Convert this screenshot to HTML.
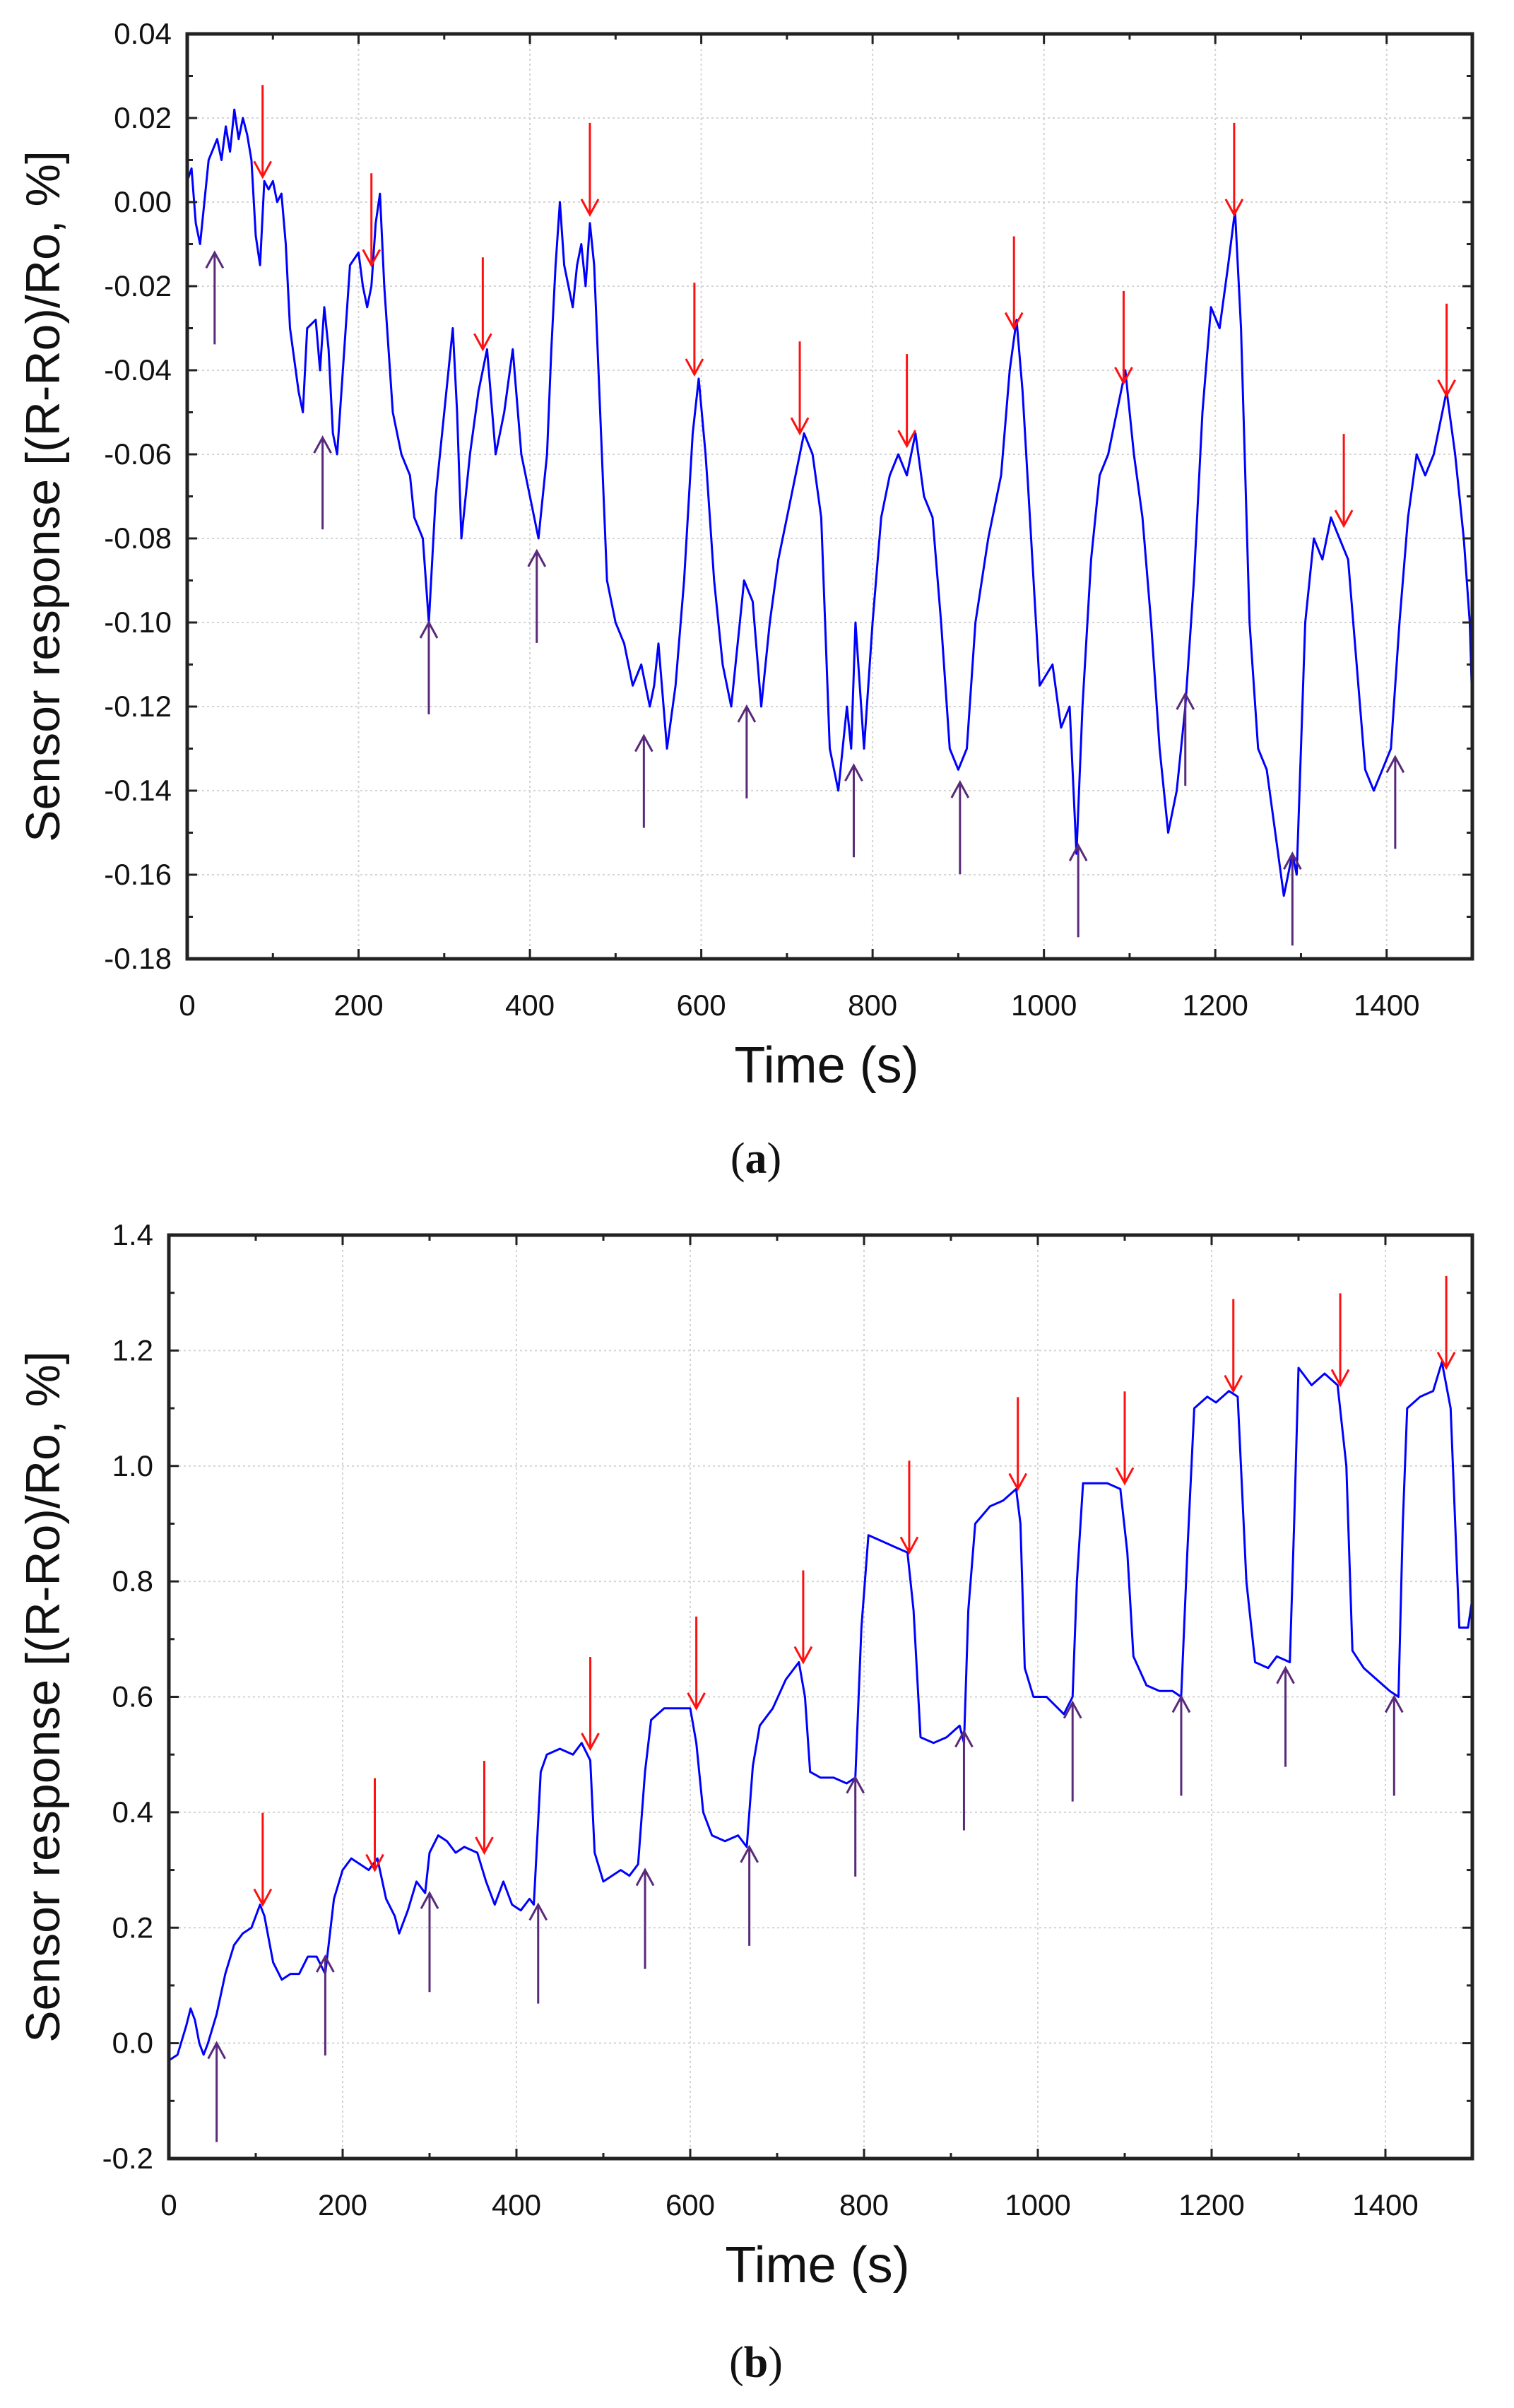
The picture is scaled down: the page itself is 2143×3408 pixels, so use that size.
<!DOCTYPE html>
<html><head><meta charset="utf-8">
<style>
html,body{margin:0;padding:0;background:#fff;}
svg{display:block;}
text{font-family:"Liberation Sans",sans-serif;fill:#111;}
</style></head>
<body>
<svg id="fig" width="2143" height="3408" viewBox="0 0 2143 3408" xmlns="http://www.w3.org/2000/svg"></svg>
<script>
// ---------- Panel (a) data ----------
const aTimes = [0,5,10,15,20,25,35,40,45,50,55,60,65,70,75,80,85,90,95,100,105,110,115,120,130,135,140,150,155,160,165,170,175,180,190,200,205,210,215,220,225,230,240,250,260,265,275,282,290,300,310,315,320,330,340,350,360,370,380,390,400,410,420,425,430,435,440,450,455,460,465,470,475,480,490,500,510,520,530,540,545,550,560,570,580,590,597,605,615,625,635,645,650,660,670,680,690,700,710,720,730,740,750,760,770,775,780,790,800,810,820,830,840,850,860,870,880,890,900,910,920,935,950,960,968,975,985,995,1010,1020,1030,1038,1045,1055,1065,1075,1085,1095,1105,1115,1125,1135,1145,1155,1165,1175,1185,1195,1205,1215,1223,1230,1240,1250,1260,1270,1280,1290,1295,1305,1315,1325,1335,1345,1355,1365,1375,1385,1395,1405,1415,1425,1435,1445,1455,1470,1480,1490,1497,1500];
const aValues = [0.005,0.008,-0.005,-0.01,0.0,0.01,0.015,0.01,0.018,0.012,0.022,0.015,0.02,0.016,0.01,-0.008,-0.015,0.005,0.003,0.005,0.0,0.002,-0.01,-0.03,-0.045,-0.05,-0.03,-0.028,-0.04,-0.025,-0.035,-0.055,-0.06,-0.045,-0.015,-0.012,-0.02,-0.025,-0.02,-0.005,0.002,-0.02,-0.05,-0.06,-0.065,-0.075,-0.08,-0.1,-0.07,-0.05,-0.03,-0.05,-0.08,-0.06,-0.045,-0.035,-0.06,-0.05,-0.035,-0.06,-0.07,-0.08,-0.06,-0.035,-0.015,0.0,-0.015,-0.025,-0.015,-0.01,-0.02,-0.005,-0.015,-0.04,-0.09,-0.1,-0.105,-0.115,-0.11,-0.12,-0.115,-0.105,-0.13,-0.115,-0.09,-0.055,-0.042,-0.06,-0.09,-0.11,-0.12,-0.1,-0.09,-0.095,-0.12,-0.1,-0.085,-0.075,-0.065,-0.055,-0.06,-0.075,-0.13,-0.14,-0.12,-0.13,-0.1,-0.13,-0.1,-0.075,-0.065,-0.06,-0.065,-0.055,-0.07,-0.075,-0.1,-0.13,-0.135,-0.13,-0.1,-0.08,-0.065,-0.04,-0.028,-0.045,-0.08,-0.115,-0.11,-0.125,-0.12,-0.155,-0.12,-0.085,-0.065,-0.06,-0.05,-0.04,-0.06,-0.075,-0.1,-0.13,-0.15,-0.14,-0.12,-0.09,-0.05,-0.025,-0.03,-0.015,-0.002,-0.03,-0.1,-0.13,-0.135,-0.15,-0.165,-0.155,-0.16,-0.1,-0.08,-0.085,-0.075,-0.08,-0.085,-0.11,-0.135,-0.14,-0.135,-0.13,-0.1,-0.075,-0.06,-0.065,-0.06,-0.045,-0.06,-0.08,-0.1,-0.12];
const aRedT = [88,215,345,470,592,715,840,965,1093,1222,1350,1470];
const aRedV = [0.006,-0.015,-0.035,-0.003,-0.041,-0.055,-0.058,-0.03,-0.043,-0.003,-0.077,-0.046];
const aPurT = [32,158,282,408,533,653,778,902,1040,1165,1290,1410];
const aPurV = [-0.012,-0.056,-0.1,-0.083,-0.127,-0.12,-0.134,-0.138,-0.153,-0.117,-0.155,-0.132];
const aYTicks = ["0.04","0.02","0.00","-0.02","-0.04","-0.06","-0.08","-0.10","-0.12","-0.14","-0.16","-0.18"];
const xTicks = ["0","200","400","600","800","1000","1200","1400"];

// ---------- Panel (b) data ----------
const bTimes = [0,10,20,25,30,35,40,45,55,65,75,85,95,105,110,120,130,140,150,160,170,180,190,200,210,220,230,240,250,260,265,275,285,295,300,310,320,330,340,355,365,375,385,395,405,415,420,428,435,450,465,475,485,490,500,510,520,530,540,548,555,570,590,600,607,615,625,640,655,665,672,680,695,710,725,732,738,750,765,780,790,797,805,820,835,850,857,865,880,895,910,915,920,928,945,960,975,980,985,995,1010,1030,1040,1045,1052,1065,1080,1095,1103,1110,1125,1140,1155,1165,1172,1180,1195,1205,1220,1230,1240,1250,1265,1275,1290,1295,1300,1315,1330,1345,1355,1362,1375,1390,1405,1415,1420,1425,1440,1455,1465,1475,1485,1495,1500];
const bValues = [-0.03,-0.02,0.03,0.06,0.04,0.0,-0.02,0.0,0.05,0.12,0.17,0.19,0.2,0.24,0.22,0.14,0.11,0.12,0.12,0.15,0.15,0.12,0.25,0.3,0.32,0.31,0.3,0.32,0.25,0.22,0.19,0.23,0.28,0.26,0.33,0.36,0.35,0.33,0.34,0.33,0.28,0.24,0.28,0.24,0.23,0.25,0.24,0.47,0.5,0.51,0.5,0.52,0.49,0.33,0.28,0.29,0.3,0.29,0.31,0.47,0.56,0.58,0.58,0.58,0.52,0.4,0.36,0.35,0.36,0.34,0.48,0.55,0.58,0.63,0.66,0.6,0.47,0.46,0.46,0.45,0.46,0.72,0.88,0.87,0.86,0.85,0.75,0.53,0.52,0.53,0.55,0.52,0.75,0.9,0.93,0.94,0.96,0.9,0.65,0.6,0.6,0.57,0.6,0.8,0.97,0.97,0.97,0.96,0.85,0.67,0.62,0.61,0.61,0.6,0.85,1.1,1.12,1.11,1.13,1.12,0.8,0.66,0.65,0.67,0.66,0.9,1.17,1.14,1.16,1.14,1.0,0.68,0.65,0.63,0.61,0.6,0.9,1.1,1.12,1.13,1.18,1.1,0.72,0.72,0.77];
const bRedT = [108,237,363,485,607,730,852,977,1100,1225,1348,1470];
const bRedV = [0.24,0.3,0.33,0.51,0.58,0.66,0.85,0.96,0.97,1.13,1.14,1.17];
const bPurT = [55,180,300,425,548,668,790,915,1040,1165,1285,1410];
const bPurV = [0.0,0.15,0.26,0.24,0.3,0.34,0.46,0.54,0.59,0.6,0.65,0.6];
const bYTicks = ["1.4","1.2","1.0","0.8","0.6","0.4","0.2","0.0","-0.2"];

const NS = "http://www.w3.org/2000/svg";
const svg = document.getElementById('fig');
function mk(tag, attrs, parent){
  const e = document.createElementNS(NS, tag);
  for (const k in attrs) e.setAttribute(k, attrs[k]);
  (parent||svg).appendChild(e);
  return e;
}

function panel(cfg){
  const g = mk('g', {});
  
  
  const {L,R,T,B,xMax,yMax,yMin} = cfg;
  const xs = t => L + (t/xMax)*(R-L);
  const ys = v => T + (yMax - v)/(yMax - yMin)*(B-T);
  for (let i=1;i<cfg.xTicks.length;i++){
    const x = xs(+cfg.xTicks[i]);
    const gl = mk('line',{x1:x,y1:T,x2:x,y2:B,stroke:'#d4d4d4','stroke-width':2,'stroke-dasharray':'3,4'},g);
    
    
  }
  cfg.yTicks.forEach(s=>{
    const y = ys(+s);
    const gl = mk('line',{x1:L,y1:y,x2:R,y2:y,stroke:'#d4d4d4','stroke-width':2,'stroke-dasharray':'3,4'},g);
    
    
  });
  let d='';
  cfg.times.forEach((t,i)=>{ d += (i?'L':'M') + xs(t).toFixed(1) + ' ' + ys(cfg.values[i]).toFixed(1); });
  const p = mk('path',{d:d,fill:'none',stroke:'#0000ff','stroke-width':3,'stroke-linejoin':'round'},g);
  
  
  function arrow(t,v,dir,color,len,name){
    const x = xs(t), y = ys(v);
    const y2 = y + dir*len;
    const ag = mk('g',{},g);
    
    
    mk('line',{x1:x,y1:y,x2:x,y2:y2,stroke:color,'stroke-width':3},ag);
    mk('path',{d:`M${x-12} ${y+dir*22}L${x} ${y}L${x+12} ${y+dir*22}`,fill:'none',stroke:color,'stroke-width':3},ag);
  }
  cfg.redT.forEach((t,i)=>arrow(t,cfg.redV[i],-1,'#ff1010',130,'desorption-arrow'));
  cfg.purT.forEach((t,i)=>arrow(t,cfg.purV[i],1,'#5a2a7a',cfg.purLen,'adsorption-arrow'));
  const fr = mk('rect',{x:L,y:T,width:R-L,height:B-T,fill:'none',stroke:'#222','stroke-width':5},g);
  
  
  for (let t=0;t<=xMax;t+=100){
    const x = xs(t); const len = (t%200===0)?14:8;
    mk('line',{x1:x,y1:B,x2:x,y2:B-len,stroke:'#222','stroke-width':3},g);
    mk('line',{x1:x,y1:T,x2:x,y2:T+len,stroke:'#222','stroke-width':3},g);
  }
  const step = (yMax-yMin)/(cfg.yTicks.length-1);
  for (let k=0;k<=2*(cfg.yTicks.length-1);k++){
    const y = ys(yMax - k*step/2); const len = (k%2===0)?14:8;
    mk('line',{x1:L,y1:y,x2:L+len,y2:y,stroke:'#222','stroke-width':3},g);
    mk('line',{x1:R,y1:y,x2:R-len,y2:y,stroke:'#222','stroke-width':3},g);
  }
  cfg.xTicks.forEach(s=>{
    const tx = mk('text',{x:xs(+s),y:B+80,'text-anchor':'middle','font-size':42},g);
    tx.textContent = s;
    
    
  });
  cfg.yTicks.forEach(s=>{
    const tx = mk('text',{x:L-22,y:ys(+s)+14,'text-anchor':'end','font-size':42},g);
    tx.textContent = s;
    
    
  });
  const xt = mk('text',{x:cfg.xtX,y:B+175,'text-anchor':'middle','font-size':72},g);
  xt.textContent = 'Time (s)';
  
  
  const yc = (T+B)/2;
  const yt = mk('text',{x:84,y:yc,'text-anchor':'middle','font-size':68,transform:`rotate(-90 84 ${yc})`},g);
  yt.textContent = 'Sensor response [(R-Ro)/Ro, %]';
  
  
  const cap = mk('text',{x:1070,y:cfg.capY,'text-anchor':'middle','font-size':62,style:'font-family:"Liberation Serif",serif'},g);
  cap.innerHTML = '(<tspan font-weight="bold">'+cfg.cap+'</tspan>)';
  
  
}

panel({name:'chart-a',L:265,R:2084,T:48,B:1357,xMax:1500,yMax:0.04,yMin:-0.18,xtX:1170,
  xTicks:xTicks,yTicks:aYTicks,times:aTimes,values:aValues,redT:aRedT,redV:aRedV,purT:aPurT,purV:aPurV,purLen:130,cap:'a',capY:1660});
panel({name:'chart-b',L:239,R:2084,T:1748,B:3055,xMax:1500,yMax:1.4,yMin:-0.2,xtX:1157,
  xTicks:xTicks,yTicks:bYTicks,times:bTimes,values:bValues,redT:bRedT,redV:bRedV,purT:bPurT,purV:bPurV,purLen:140,cap:'b',capY:3364});
</script>
</body></html>
